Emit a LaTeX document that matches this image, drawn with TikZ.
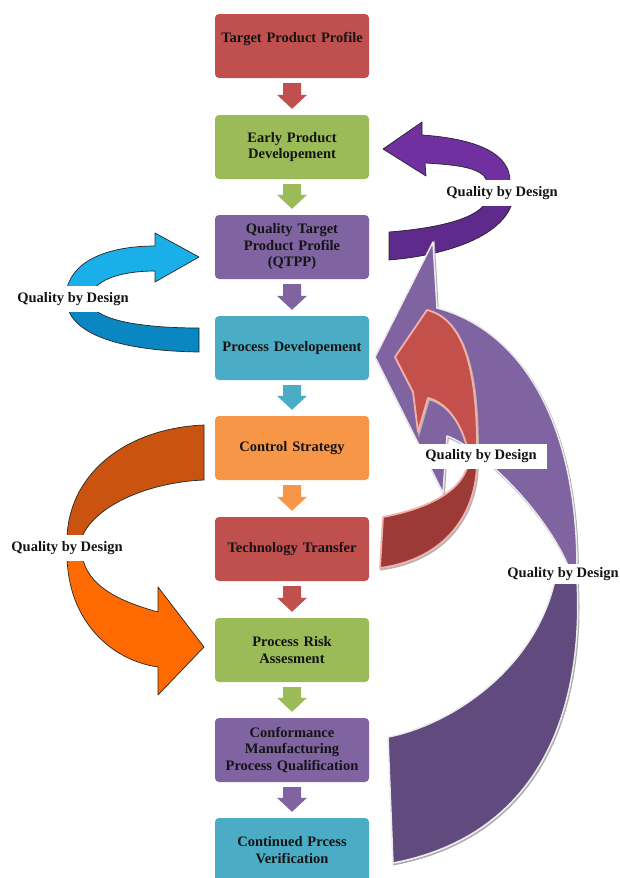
\documentclass[tikz,border=0pt]{standalone}
\usepackage{fontspec}
\setmainfont{Liberation Serif}
\usetikzlibrary{calc}
\definecolor{bred}{HTML}{C0504D}
\definecolor{bgreen}{HTML}{9BBB59}
\definecolor{bpurple}{HTML}{8064A2}
\definecolor{bteal}{HTML}{4BACC6}
\definecolor{borange}{HTML}{F79646}
\definecolor{txt}{HTML}{141414}
\definecolor{qpA}{HTML}{7030A0}
\definecolor{qpB}{HTML}{5E2A8C}
\definecolor{cyA}{HTML}{1AAFE8}
\definecolor{cyB}{HTML}{0A86C2}
\definecolor{orA}{HTML}{C9530F}
\definecolor{orB}{HTML}{FF6A00}
\definecolor{bgA}{HTML}{8064A2}
\definecolor{bgB}{HTML}{604A7E}
\definecolor{rdA}{HTML}{C4504C}
\definecolor{rdB}{HTML}{9B3A37}
\definecolor{rdline}{HTML}{F2B0AB}
\newcommand\dnarr[3]{%
  \fill[#3] ($(#1.south)+(-9,5)$) -- ($(#1.south)+(9,5)$) -- ($(#2.north)+(9,-20)$)
    -- ($(#2.north)+(15,-20)$) -- ($(#2.north)+(0,-6)$) -- ($(#2.north)+(-15,-20)$)
    -- ($(#2.north)+(-9,-20)$) -- cycle;}
\begin{document}
\begin{tikzpicture}[x=1pt,y=-1pt,
  stepbox/.style={rectangle, rounded corners=4pt, minimum width=154pt, minimum height=64pt,
    align=center, text width=150pt, inner sep=0pt, text=txt,
    font=\fontsize{14.5}{16.5}\selectfont\bfseries},
  qlab/.style={fill=white, inner xsep=2pt, inner ysep=0pt, minimum height=26pt, text=txt,
    font=\fontsize{14.5}{16.5}\selectfont\bfseries},
  qline/.style={draw=black!85, line width=0.7pt, line join=round},
  bigline/.style={draw=white!92!black, line width=1.5pt, line join=round,
    preaction={draw=gray!65, line width=1.6pt, transform canvas={shift={(1pt,-1.5pt)}}}},
  redline/.style={draw=rdline, line width=1.8pt, line join=round,
    preaction={draw=gray!60, line width=1.8pt, transform canvas={shift={(1pt,-1.5pt)}}}}
]
\useasboundingbox (0,0) rectangle (620,878);
\clip (0,0) rectangle (620,878);
\fill[white] (0,0) rectangle (620,878);

% boxes
\node[stepbox, fill=bred]    (tpp)  at (292,46)  {Target Product Profile\\[-4pt]\strut};
\node[stepbox, fill=bgreen]  (epd)  at (292,147) {Early Product\\Developement};
\node[stepbox, fill=bpurple] (qtpp) at (292,247) {Quality Target\\Product Profile\\(QTPP)};
\node[stepbox, fill=bteal]   (pd)   at (292,348) {Process Developement};
\node[stepbox, fill=borange] (cs)   at (292,448) {Control Strategy};
\node[stepbox, fill=bred]    (tt)   at (292,549) {Technology Transfer};
\node[stepbox, fill=bgreen]  (pra)  at (292,650) {Process Risk\\Assesment};
\node[stepbox, fill=bpurple] (cmpq) at (292,750) {Conformance\\Manufacturing\\Process Qualification};
\node[stepbox, fill=bteal]   (cpv)  at (292,850) {Continued Prcess\\Verification};

% small down arrows
\dnarr{tpp}{epd}{bred}
\dnarr{epd}{qtpp}{bgreen}
\dnarr{qtpp}{pd}{bpurple}
\dnarr{pd}{cs}{bteal}
\dnarr{cs}{tt}{borange}
\dnarr{tt}{pra}{bred}
\dnarr{pra}{cmpq}{bgreen}
\dnarr{cmpq}{cpv}{bpurple}

% top purple curved arrow
\draw[qline, fill=qpA] (422,135) .. controls (480,139) and (510,155) .. (510,181) -- (487,181)
  .. controls (482,168) and (460,165) .. (425,163) -- (426,176) -- (383,149) -- (422,122) -- cycle;
\draw[qline, fill=qpB] (487,200) .. controls (480,218) and (440,228) .. (389,232) -- (389,260)
  .. controls (450,255) and (505,235) .. (513,200) -- cycle;

% cyan curved arrow
\draw[qline, fill=cyA] (67,288) .. controls (75,257) and (115,246) .. (155,246) -- (155,233)
  -- (199,257) -- (155,282) -- (155,271) .. controls (130,271) and (105,276) .. (95,288) -- cycle;
\draw[qline, fill=cyB] (67,306) .. controls (75,338) and (130,351) .. (199,352) -- (199,328)
  .. controls (140,328) and (100,320) .. (92,306) -- cycle;

% orange curved arrow
\draw[qline, fill=orA] (204,425) .. controls (130,428) and (70,470) .. (67,537) -- (82,537)
  .. controls (95,505) and (150,482) .. (204,480) -- cycle;
\draw[qline, fill=orB] (67,556) .. controls (68,620) and (110,660) .. (158,667) -- (158,695)
  -- (204,647) -- (158,587) -- (158,612) .. controls (115,600) and (88,585) .. (82,556) -- cycle;

% big purple curved arrow
\draw[bigline, fill=bgA] (375,357) -- (433,242) -- (437,308) .. controls (520,330) and (577,420) .. (577,568)
  -- (569,568) .. controls (545,510) and (480,448) .. (447,436) -- (443,493) -- cycle;
\draw[bigline, fill=bgB] (555,580) .. controls (535,670) and (450,725) .. (388,737) -- (393,863)
  .. controls (540,835) and (584,710) .. (577,580) -- cycle;

% red curved arrow
\draw[redline, fill=rdA] (427,310) .. controls (460,318) and (477,360) .. (477,447) -- (467,447)
  .. controls (460,420) and (445,402) .. (428,398) -- (418,432) -- (413,392) -- (395,357) -- cycle;
\draw[redline, fill=rdB] (477,465) .. controls (475,520) and (440,560) .. (380,568) -- (383,517)
  .. controls (420,510) and (460,495) .. (468,465) -- cycle;

% labels
\node[qlab] (q1) at (73,299)   {Quality by Design};
\node[qlab] (q2) at (502,193) {Quality by Design};
\node[qlab, minimum width=132pt, minimum height=25pt] (q3) at (481,456) {Quality by Design};
\node[qlab] (q4) at (67,548) {Quality by Design};
\node[qlab, minimum height=20pt] (q5) at (563,574) {Quality by Design};
\end{tikzpicture}
\end{document}
